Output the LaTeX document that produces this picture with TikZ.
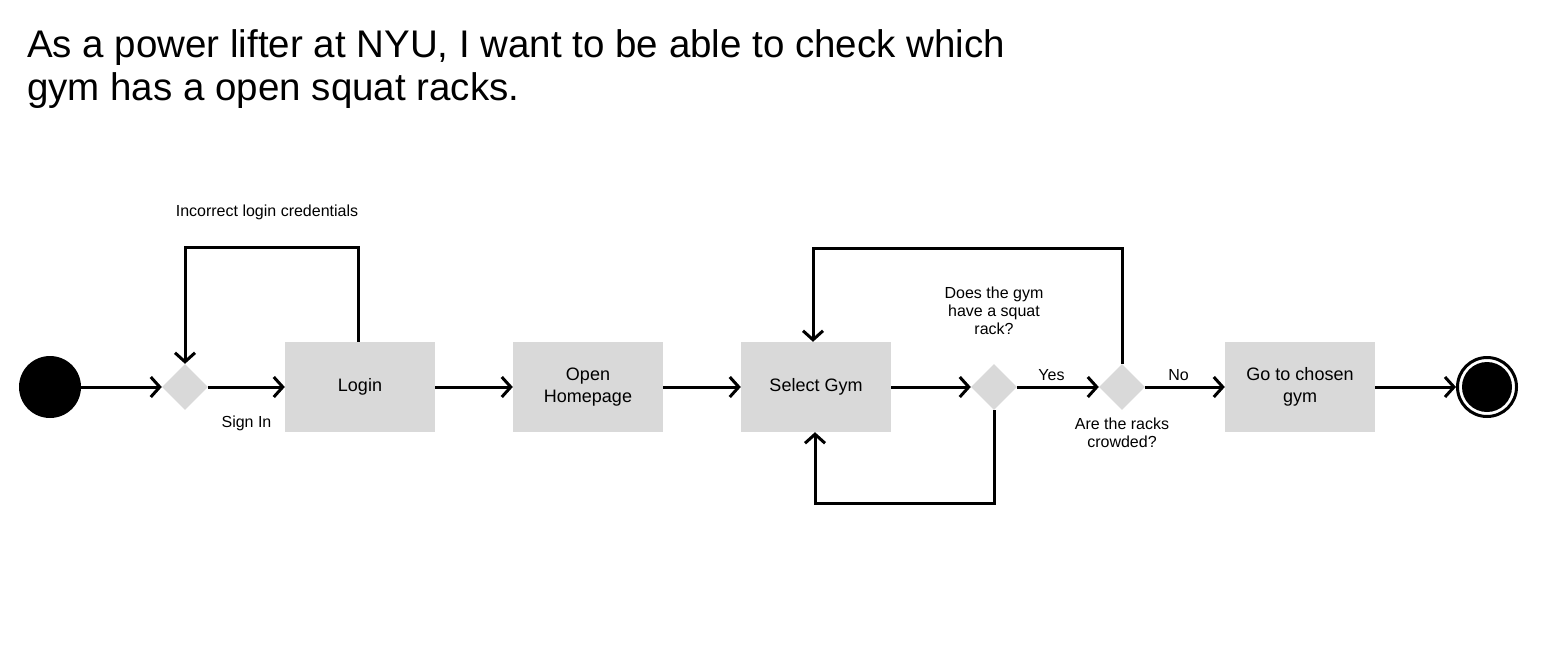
\documentclass[tikz,border=0pt]{standalone}
\usepackage{fontspec}
\setmainfont{Liberation Sans}
\usepackage{tikz}
\usetikzlibrary{arrows.meta,positioning,calc,shapes.geometric}
\usepackage{xcolor}
\definecolor{ink}{RGB}{0,0,0}
\definecolor{boxgray}{RGB}{217,217,217}
\tikzset{
  act/.style={fill=boxgray,minimum width=150pt,minimum height=90pt,inner sep=0pt,
    align=center,font=\fontsize{18}{22}\selectfont},
  choice/.style={diamond,fill=boxgray,minimum width=46pt,minimum height=46pt,inner sep=0pt},
  startpt/.style={circle,fill=ink,minimum size=62pt,inner sep=0pt},
  stoppt/.style={circle,draw=ink,line width=3pt,fill=white,minimum size=59pt,inner sep=0pt,
    path picture={\fill[ink] (path picture bounding box.center) circle (25pt);}},
  lbl/.style={font=\fontsize{16}{18}\selectfont,align=center,inner sep=0pt},
  arr/.style={-{Straight Barb[length=9pt,width=20pt]},line width=3pt,ink},
}

\begin{document}
\begin{tikzpicture}[x=1pt,y=-1pt]
\useasboundingbox (0,0) rectangle (1543,646);
% story
\node[anchor=base west,align=left,inner sep=0pt,font=\fontsize{38.5}{43}\selectfont] (story) at (27,100)
  {As a power lifter at NYU, I want to be able to check which\\gym has a open squat racks.};
% main flow
\node[startpt] (start) at (50,387) {};
\node[choice] (d1) at (185,387) {};
\node[act] (login) at (360,387) {Login};
\node[act] (home) at (588,387) {Open\\Homepage};
\node[act] (select) at (816,387) {Select Gym};
\node[choice] (d2) at (994,387) {};
\node[choice] (d3) at (1122,387) {};
\node[act] (goto) at (1300,387) {Go to chosen\\gym};
\node[stoppt] (stop) at (1487,387) {};
\draw[arr] (start) -- (d1);
\draw[arr] (d1) -- node[lbl,below=27pt] (signin) {Sign In} (login);
\draw[arr] (login) -- (home);
\draw[arr] (home) -- (select);
\draw[arr] (select) -- (d2);
\draw[arr] (d2) -- node[lbl,above=5pt,pos=0.42] (yes) {Yes} (d3);
\draw[arr] (d3) -- node[lbl,above=5pt,pos=0.42] (no) {No} (goto);
\draw[arr] (goto) -- (stop);
% loops
\draw[arr] ([xshift=-2pt]login.north) -- ++(0,-94) -| (d1.north);
\draw[arr] (d3.north) -- ++(0,-115) -| ([xshift=-3pt]select.north);
\draw[arr] (d2.south) -- ++(0,93) -| ([xshift=-1pt]select.south);
% notes
\node[lbl] (wrong) at (267,212) {Incorrect login credentials};
\node[lbl] (q1) at (994,311) {Does the gym\\have a squat\\rack?};
\node[lbl] (q2) at (1122,433) {Are the racks\\crowded?};
\end{tikzpicture}
\end{document}
